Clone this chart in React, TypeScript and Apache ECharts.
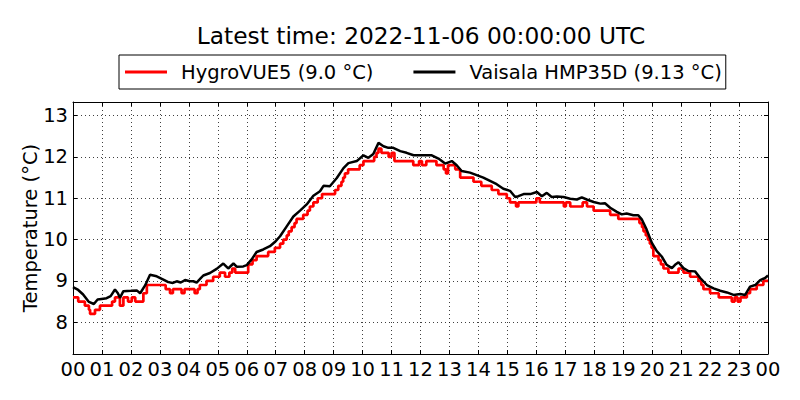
import React, { useEffect, useRef } from "react";
import * as echarts from "echarts";

const titleText = "Latest time: 2022-11-06 00:00:00 UTC";
const redName = "HygroVUE5 (9.0 °C)";
const blackName = "Vaisala HMP35D (9.13 °C)";
const yAxisName = "Temperature (°C)";

const xTickLabels = [
  "00", "01", "02", "03", "04", "05", "06", "07", "08", "09", "10", "11",
  "12", "13", "14", "15", "16", "17", "18", "19", "20", "21", "22", "23", "00",
];
const yTicks = [8, 9, 10, 11, 12, 13];

// Vaisala HMP35D (hours since 00 UTC, °C)
const blackHours = [
  0.0, 0.18, 0.35, 0.55, 0.72, 0.85, 1.05, 1.16, 1.3, 1.45, 1.55, 1.62, 1.74, 2.0, 2.2, 2.32, 2.49, 2.66, 2.89,
  3.12, 3.29, 3.45, 3.58, 3.72, 3.87, 4.03, 4.15, 4.27, 4.38, 4.5, 4.73, 4.96, 5.19, 5.36, 5.54, 5.66, 5.88,
  6.0, 6.17, 6.34, 6.57, 6.8, 6.97, 7.15, 7.38, 7.61, 7.84, 8.07, 8.3, 8.53, 8.65, 8.87, 9.11, 9.34, 9.51,
  9.8, 10.03, 10.2, 10.37, 10.55, 10.72, 10.89, 11.06, 11.3, 11.52, 11.76, 11.99, 12.39, 12.62, 12.85, 13.08,
  13.25, 13.42, 13.71, 13.94, 14.17, 14.4, 14.63, 14.86, 15.09, 15.27, 15.38, 15.56, 15.79, 16.02, 16.19,
  16.36, 16.53, 16.71, 16.94, 17.17, 17.4, 17.57, 17.74, 17.98, 18.21, 18.37, 18.55, 18.78, 18.95, 19.12,
  19.35, 19.52, 19.64, 19.81, 19.99, 20.16, 20.33, 20.5, 20.68, 20.79, 20.91, 21.08, 21.25, 21.48, 21.66,
  21.89, 22.12, 22.35, 22.58, 22.81, 23.04, 23.21, 23.38, 23.56, 23.73, 23.9, 24.0,
];
const blackTemps = [
  8.85, 8.78, 8.67, 8.49, 8.44, 8.55, 8.57, 8.58, 8.63, 8.79, 8.7, 8.59, 8.75, 8.76, 8.77, 8.7, 8.89, 9.15, 9.11,
  9.03, 8.97, 8.95, 8.99, 8.96, 9.02, 8.99, 8.99, 8.96, 9.04, 9.13, 9.19, 9.29, 9.42, 9.3, 9.42, 9.34, 9.35,
  9.38, 9.52, 9.7, 9.76, 9.84, 9.94, 10.08, 10.32, 10.56, 10.7, 10.85, 11.06, 11.17, 11.3, 11.29, 11.49, 11.73, 11.85,
  11.9, 12.04, 11.98, 12.07, 12.34, 12.26, 12.22, 12.22, 12.14, 12.1, 12.04, 12.04, 12.04, 11.96, 11.84, 11.9,
  11.8, 11.66, 11.62, 11.56, 11.5, 11.42, 11.34, 11.23, 11.18, 11.03, 11.05, 11.1, 11.1, 11.15, 11.05,
  11.13, 11.03, 11.04, 11.03, 10.99, 10.97, 11.02, 10.97, 10.91, 10.87, 10.88, 10.77, 10.67, 10.61, 10.63,
  10.59, 10.59, 10.49, 10.24, 9.92, 9.72, 9.59, 9.39, 9.31, 9.39, 9.45, 9.31, 9.24, 9.23, 9.07,
  8.9, 8.82, 8.76, 8.72, 8.66, 8.68, 8.66, 8.86, 8.9, 9.02, 9.07, 9.13,
];

// HygroVUE5 (hours since 00 UTC, °C, 0.1 °C resolution)
const redHours = [
  0.0, 0.18, 0.41, 0.55, 0.59, 0.76, 0.93, 1.35, 1.45, 1.62, 1.74, 1.9, 2.03, 2.15, 2.43, 2.55, 3.2, 3.35,
  3.45, 3.75, 3.85, 4.2, 4.3, 4.38, 4.61, 4.84, 5.07, 5.25, 5.4, 5.5, 5.6, 6.05, 6.2, 6.34, 6.74, 6.97, 7.15,
  7.26, 7.38, 7.45, 7.55, 7.65, 7.72, 7.95, 8.1, 8.18, 8.3, 8.45, 8.6, 9.05, 9.16, 9.27, 9.33, 9.39, 9.5,
  9.9, 10.03, 10.4, 10.48, 10.55, 10.65, 10.9, 11.0, 11.1, 11.75, 11.95, 12.05, 12.2, 12.55, 12.8, 12.88,
  12.95, 13.2, 13.37, 13.83, 14.1, 14.46, 14.69, 14.98, 15.09, 15.3, 15.38, 16.0, 16.12, 16.95, 17.02,
  17.17, 17.6, 17.75, 17.98, 18.55, 18.83, 19.56, 19.65, 19.7, 19.78, 19.85, 19.92, 19.98, 20.04, 20.22,
  20.3, 20.39, 20.56, 20.91, 21.08, 21.31, 21.6, 21.7, 21.77, 22.0, 22.3, 22.75, 22.85, 22.95, 23.05,
  23.27, 23.38, 23.61, 23.84, 24.0,
];
const redTemps = [
  8.6, 8.5, 8.4, 8.3, 8.2, 8.3, 8.4, 8.5, 8.6, 8.4, 8.6, 8.5, 8.6, 8.5, 8.7, 8.9, 8.8, 8.7,
  8.8, 8.7, 8.8, 8.7, 8.8, 8.9, 9.0, 9.1, 9.2, 9.1, 9.2, 9.3, 9.2, 9.4, 9.5, 9.6, 9.7, 9.8, 9.9,
  10.0, 10.1, 10.2, 10.3, 10.4, 10.5, 10.6, 10.7, 10.8, 10.9, 11.0, 11.1, 11.2, 11.3, 11.4, 11.5, 11.6, 11.7,
  11.8, 11.9, 12.0, 12.1, 12.2, 12.1, 12.0, 12.1, 11.9, 11.8, 11.9, 11.8, 11.9, 11.8, 11.7, 11.6,
  11.8, 11.7, 11.5, 11.4, 11.3, 11.2, 11.1, 11.0, 10.9, 10.8, 10.9, 11.0, 10.9, 10.8, 10.9,
  10.8, 10.9, 10.8, 10.7, 10.6, 10.5, 10.4, 10.3, 10.2, 10.1, 10.0, 9.9, 9.8, 9.6, 9.5,
  9.4, 9.3, 9.2, 9.3, 9.2, 9.1, 9.0, 8.9, 8.8, 8.7, 8.6, 8.5, 8.6, 8.5, 8.6,
  8.7, 8.8, 8.9, 9.0, 9.0,
];

const FONT = "DejaVu Sans";
const FS = 19.5;

export default function App() {
  const ref = useRef<HTMLDivElement>(null);
  useEffect(() => {
    if (!ref.current) return;
    const chart = echarts.init(ref.current, undefined, { renderer: "svg" });
    const blackData = blackHours.map((h, i) => [h, blackTemps[i]]);
    const redData = redHours.map((h, i) => [h, redTemps[i]]);
    const yMin = 7.23;
    const yMax = 13.33;
    const gridLine = { show: true, lineStyle: { color: "#000", width: 1, type: [1, 3], opacity: 0.75 } };
    const tick = { show: true, inside: true, length: 4, lineStyle: { color: "#000", width: 1 } };
    chart.setOption({
      animation: false,
      backgroundColor: "#fff",
      textStyle: { fontFamily: FONT },
      graphic: [
        {
          type: "text",
          x: 421,
          y: 35,
          style: {
            text: titleText,
            fill: "#000",
            font: `23.3px '${FONT}'`,
            align: "center",
            verticalAlign: "middle",
          },
        },
      ],
      legend: {
        left: 119,
        top: 55,
        orient: "horizontal",
        icon: "rect",
        itemWidth: 42,
        itemHeight: 3,
        itemGap: 40,
        padding: [6, 4, 6, 6],
        borderColor: "#000",
        borderWidth: 1,
        borderRadius: 0,
        textStyle: { fontSize: FS, fontFamily: FONT, color: "#000", padding: [0, 0, 0, 9], lineHeight: 22 },
        data: [redName, blackName],
      },
      grid: { left: 73, right: 32, top: 102, bottom: 46, show: false },
      xAxis: [
        {
          type: "value",
          min: 0,
          max: 24,
          interval: 1,
          position: "bottom",
          axisLine: { show: true, onZero: false, lineStyle: { color: "#000", width: 1 } },
          axisTick: tick,
          axisLabel: {
            fontSize: FS,
            fontFamily: FONT,
            color: "#000",
            margin: 5,
            formatter: (v: number) => xTickLabels[Math.round(v)] ?? "",
          },
          splitLine: gridLine,
        },
        {
          type: "value",
          min: 0,
          max: 24,
          interval: 1,
          position: "top",
          axisLine: { show: true, onZero: false, lineStyle: { color: "#000", width: 1 } },
          axisTick: tick,
          axisLabel: { show: false },
          splitLine: { show: false },
        },
      ],
      yAxis: [
        {
          type: "value",
          min: yMin,
          max: yMax,
          position: "left",
          name: yAxisName,
          nameLocation: "middle",
          nameGap: 33,
          nameMoveOverlap: false,
          nameTextStyle: { fontSize: FS, fontFamily: FONT, color: "#000" },
          axisLine: { show: true, onZero: false, lineStyle: { color: "#000", width: 1 } },
          axisTick: { ...tick, customValues: yTicks },
          axisLabel: { fontSize: FS, fontFamily: FONT, color: "#000", margin: 5, customValues: yTicks },
          splitLine: gridLine,
        },
        {
          type: "value",
          min: yMin,
          max: yMax,
          position: "right",
          axisLine: { show: true, onZero: false, lineStyle: { color: "#000", width: 1 } },
          axisTick: { ...tick, customValues: yTicks },
          axisLabel: { show: false },
          splitLine: { show: false },
        },
      ],
      series: [
        {
          name: redName,
          type: "line",
          step: "end",
          data: redData,
          showSymbol: false,
          symbol: "none",
          color: "#ff0000",
          lineStyle: { color: "#ff0000", width: 2.7 },
          z: 2,
        },
        {
          name: blackName,
          type: "line",
          data: blackData,
          showSymbol: false,
          symbol: "none",
          color: "#000000",
          lineStyle: { color: "#000000", width: 2.5 },
          z: 3,
        },
      ],
    });
    return () => chart.dispose();
  }, []);
  return (
    <div
      ref={ref}
      style={{ position: "fixed", left: 0, top: 0, width: 800, height: 400, background: "#fff" }}
    />
  );
}
